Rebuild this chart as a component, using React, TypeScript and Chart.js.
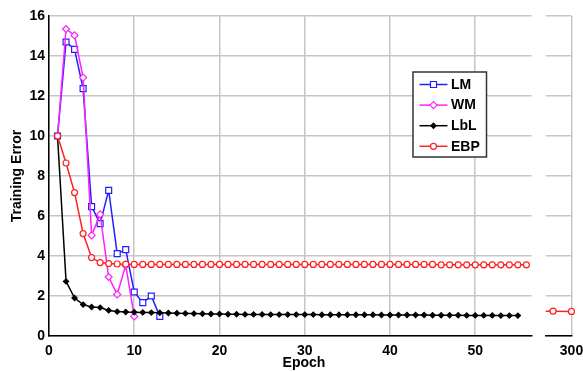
import React, { useEffect, useRef } from 'react';
import { Chart, registerables } from 'chart.js';

Chart.register(...registerables);

// ---------- data ----------
const lmEpochs = [1, 2, 3, 4, 5, 6, 7, 8, 9, 10, 11, 12, 13];
const lmValues = [10, 14.7, 14.33, 12.37, 6.47, 5.62, 7.28, 4.12, 4.32, 2.2, 1.67, 2.0, 0.98];

const wmEpochs = [1, 2, 3, 4, 5, 6, 7, 8, 9, 10];
const wmValues = [10, 15.35, 15.03, 12.92, 5.03, 6.08, 2.95, 2.08, 3.53, 0.98];

const lblEpochs = Array.from({ length: 55 }, (_, i) => i + 1);
const lblValues = [
  10, 2.73, 1.9, 1.57, 1.45, 1.42, 1.28, 1.22, 1.2, 1.19,
  1.18, 1.17, 1.16, 1.15, 1.14, 1.13, 1.12, 1.11, 1.1, 1.1,
  1.09, 1.09, 1.08, 1.08, 1.08, 1.07, 1.07, 1.07, 1.07, 1.07,
  1.07, 1.06, 1.06, 1.06, 1.06, 1.06, 1.06, 1.06, 1.05, 1.05,
  1.05, 1.05, 1.05, 1.05, 1.04, 1.04, 1.04, 1.04, 1.03, 1.03,
  1.03, 1.03, 1.02, 1.02, 1.02,
];

const ebpEpochs = Array.from({ length: 56 }, (_, i) => i + 1);
const ebpValues = [
  10, 8.65, 7.17, 5.12, 3.92, 3.67, 3.62, 3.6, 3.59, 3.58,
  3.58, 3.58, 3.58, 3.58, 3.58, 3.58, 3.58, 3.58, 3.58, 3.58,
  3.58, 3.58, 3.58, 3.58, 3.58, 3.58, 3.58, 3.58, 3.58, 3.58,
  3.58, 3.58, 3.58, 3.58, 3.58, 3.58, 3.58, 3.58, 3.58, 3.58,
  3.58, 3.58, 3.58, 3.58, 3.58, 3.56, 3.56, 3.56, 3.56, 3.56,
  3.56, 3.56, 3.56, 3.56, 3.56, 3.56,
];

// broken-axis tail of EBP (epochs near 300)
const ebpTailEpochs = [296, 298, 300];
const ebpTailValues = [1.24, 1.24, 1.23];

const xTicksMain = [0, 10, 20, 30, 40, 50];
const xTicksTail = [300];
const yTicks = [0, 2, 4, 6, 8, 10, 12, 14, 16];

const seriesNames = ['LM', 'WM', 'LbL', 'EBP'];

// ---------- style ----------
const FONT_FAMILY = '"Liberation Sans", Arial, Helvetica, sans-serif';
const tickFont = { family: FONT_FAMILY, size: 14, weight: 'bold' as const };
const GRID = '#c6c6c6';
const C_LM = '#2020ff';
const C_WM = '#ff20ff';
const C_LBL = '#000000';
const C_EBP = '#ff2020';

const pts = (xs: number[], ys: number[]) => xs.map((x, i) => ({ x, y: ys[i] }));

function drawMarker(ctx: CanvasRenderingContext2D, kind: string, x: number, y: number, color: string) {
  ctx.save();
  ctx.strokeStyle = color;
  ctx.lineWidth = 1.2;
  ctx.beginPath();
  if (kind === 'square') {
    ctx.rect(x - 3, y - 3, 6, 6);
    ctx.fillStyle = '#fff';
    ctx.fill();
    ctx.stroke();
  } else if (kind === 'diamond') {
    ctx.moveTo(x, y - 3.5); ctx.lineTo(x + 3.5, y); ctx.lineTo(x, y + 3.5); ctx.lineTo(x - 3.5, y); ctx.closePath();
    ctx.fillStyle = '#fff';
    ctx.fill();
    ctx.stroke();
  } else if (kind === 'dot') {
    ctx.moveTo(x, y - 2.6); ctx.lineTo(x + 2.6, y); ctx.lineTo(x, y + 2.6); ctx.lineTo(x - 2.6, y); ctx.closePath();
    ctx.fillStyle = color;
    ctx.fill();
    ctx.stroke();
  } else {
    ctx.arc(x, y, 3, 0, Math.PI * 2);
    ctx.fillStyle = '#fff';
    ctx.fill();
    ctx.stroke();
  }
  ctx.restore();
}

const legendPlugin = {
  id: 'customLegend',
  afterDatasetsDraw(chart: any) {
    const ctx: CanvasRenderingContext2D = chart.ctx;
    const colors = [C_LM, C_WM, C_LBL, C_EBP];
    const kinds = ['square', 'diamond', 'dot', 'circle'];
    ctx.save();
    // box
    ctx.fillStyle = '#fff';
    ctx.strokeStyle = '#333';
    ctx.lineWidth = 1.5;
    ctx.fillRect(413, 72, 73.5, 85);
    ctx.strokeRect(413, 72, 73.5, 85);
    ctx.font = `bold 14px ${FONT_FAMILY}`;
    ctx.textBaseline = 'middle';
    ctx.textAlign = 'left';
    seriesNames.forEach((name, i) => {
      const y = 84.5 + i * 20.6;
      ctx.strokeStyle = colors[i];
      ctx.lineWidth = 1.5;
      ctx.beginPath();
      ctx.moveTo(419.5, y);
      ctx.lineTo(447.5, y);
      ctx.stroke();
      drawMarker(ctx, kinds[i], 433.5, y, colors[i]);
      ctx.fillStyle = '#000';
      ctx.fillText(name, 451, y + 0.5);
    });
    // x-axis title, centred under both panels
    ctx.textAlign = 'center';
    ctx.textBaseline = 'alphabetic';
    ctx.fillText('Epoch', 304, 367);
    ctx.restore();
  },
};

function lineDs(label: string, data: any[], color: string, style: string, radius: number, bg: string, order: number) {
  return {
    label,
    data,
    borderColor: color,
    backgroundColor: color,
    borderWidth: 1.5,
    pointStyle: style,
    pointRadius: radius,
    pointBorderWidth: 1.2,
    pointBorderColor: color,
    pointBackgroundColor: bg,
    tension: 0,
    order,
  };
}

export default function App() {
  const mainRef = useRef<HTMLCanvasElement>(null);
  const tailRef = useRef<HTMLCanvasElement>(null);

  useEffect(() => {
    const main = new Chart(mainRef.current!, {
      type: 'line',
      data: {
        datasets: [
          lineDs(seriesNames[0], pts(lmEpochs, lmValues), C_LM, 'rect', 4.2, '#fff', 4),
          lineDs(seriesNames[1], pts(wmEpochs, wmValues), C_WM, 'rectRot', 3.5, '#fff', 3),
          lineDs(seriesNames[2], pts(lblEpochs, lblValues), C_LBL, 'rectRot', 2.6, C_LBL, 2),
          lineDs(seriesNames[3], pts(ebpEpochs, ebpValues), C_EBP, 'circle', 3, '#fff', 1),
        ] as any,
      },
      options: {
        animation: false,
        responsive: false,
        maintainAspectRatio: false,
        events: [],
        layout: { padding: { left: 0, top: 16, right: 51.5, bottom: 0 } },
        plugins: { legend: { display: false }, tooltip: { enabled: false } },
        scales: {
          x: {
            type: 'linear',
            min: 0,
            max: 56.6,
            afterBuildTicks: (s: any) => { s.ticks = xTicksMain.map((v) => ({ value: v })); },
            ticks: { font: tickFont, color: '#000', padding: 7, maxRotation: 0, autoSkip: false },
            grid: { color: GRID, lineWidth: 1.5, drawTicks: false },
            border: { color: '#000', width: 1.5 },
            afterFit: (s: any) => { s.height = 36; s.paddingLeft = 0; s.paddingRight = 0; },
          },
          y: {
            type: 'linear',
            min: 0,
            max: 16,
            afterBuildTicks: (s: any) => { s.ticks = yTicks.map((v) => ({ value: v })); },
            ticks: { font: tickFont, color: '#000', padding: 4, autoSkip: false },
            grid: { color: GRID, lineWidth: 1.5, drawTicks: false },
            border: { color: '#000', width: 1.5 },
            title: {
              display: true,
              text: 'Training Error',
              font: tickFont,
              color: '#000',
              padding: { top: 9, bottom: 0 },
            },
            afterFit: (s: any) => { s.width = 49; s.paddingTop = 0; s.paddingBottom = 0; },
          },
        },
      } as any,
      plugins: [legendPlugin],
    });

    const tail = new Chart(tailRef.current!, {
      type: 'line',
      data: {
        datasets: [
          {
            ...lineDs(seriesNames[3], pts(ebpTailEpochs, ebpTailValues), C_EBP, 'circle', 3, '#fff', 1),
            clip: { left: 0, top: 0, right: 6, bottom: 0 },
          },
        ] as any,
      },
      options: {
        animation: false,
        responsive: false,
        maintainAspectRatio: false,
        events: [],
        layout: { padding: { left: 5.7, top: 16, right: 11.5, bottom: 0 } },
        plugins: { legend: { display: false }, tooltip: { enabled: false } },
        scales: {
          x: {
            type: 'linear',
            min: 297.2,
            max: 300,
            afterBuildTicks: (s: any) => { s.ticks = xTicksTail.map((v) => ({ value: v })); },
            ticks: { font: tickFont, color: '#000', padding: 7, maxRotation: 0, autoSkip: false },
            grid: { color: GRID, lineWidth: 1.5, drawTicks: false },
            border: { color: '#000', width: 1.5 },
            afterFit: (s: any) => { s.height = 36; s.paddingLeft = 0; s.paddingRight = 0; },
          },
          y: {
            type: 'linear',
            min: 0,
            max: 16,
            afterBuildTicks: (s: any) => { s.ticks = yTicks.map((v) => ({ value: v })); },
            ticks: { display: false },
            grid: { color: GRID, lineWidth: 1.5, drawTicks: false },
            border: { display: false },
            afterFit: (s: any) => { s.width = 0; s.paddingTop = 0; s.paddingBottom = 0; },
          },
        },
      } as any,
    });

    return () => {
      main.destroy();
      tail.destroy();
    };
  }, []);

  return (
    <div style={{ position: 'absolute', left: 0, top: 0, width: 583, height: 372, background: '#fff', overflow: 'hidden' }}>
      <canvas ref={mainRef} width={583} height={372} style={{ position: 'absolute', left: 0, top: 0, width: 583, height: 372 }} />
      <canvas ref={tailRef} width={43} height={372} style={{ position: 'absolute', left: 540, top: 0, width: 43, height: 372 }} />
    </div>
  );
}
